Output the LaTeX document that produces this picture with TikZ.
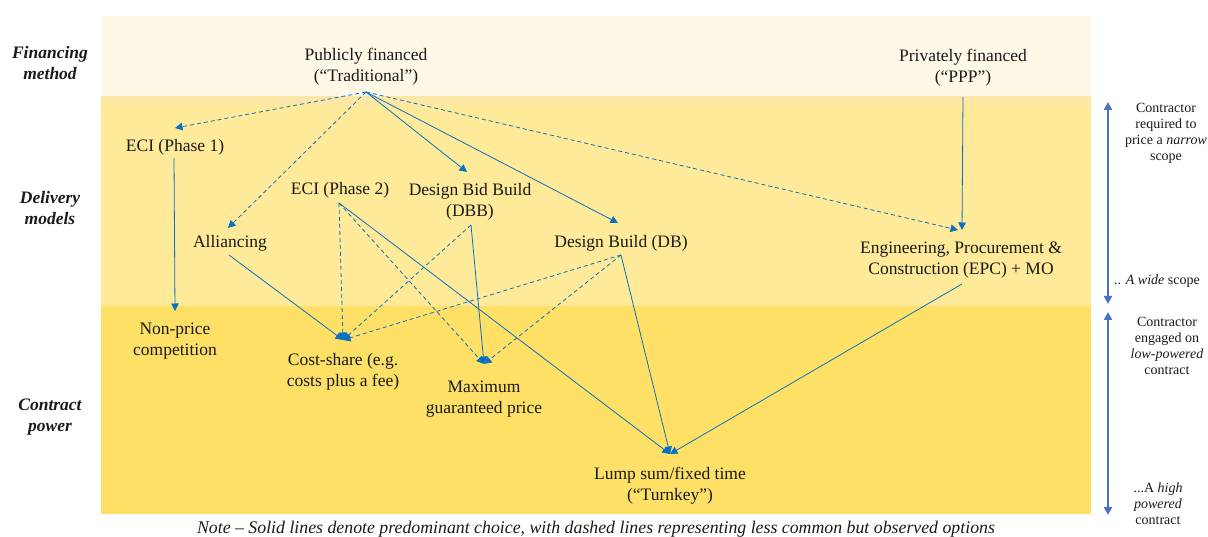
\documentclass[tikz,border=0pt]{standalone}
\usepackage{fontspec}
\setmainfont{Liberation Serif}
\usetikzlibrary{arrows.meta}
\definecolor{bandtop}{HTML}{FFF8E6}
\definecolor{bandstrip}{HTML}{FDE7A6}
\definecolor{bandmid}{HTML}{FEEA98}
\definecolor{bandbot}{HTML}{FEE066}
\definecolor{arrblue}{HTML}{0A70C4}
\definecolor{sideblue}{HTML}{4472C4}
\definecolor{ink}{HTML}{1A1A1A}
\tikzset{
  txt/.style={align=center, inner sep=0pt, text=ink, font=\fontsize{17.5}{21}\selectfont},
  sidetxt/.style={align=center, inner sep=0pt, text=ink, font=\fontsize{14}{16}\selectfont},
  sidelabel/.style={align=center, inner sep=0pt, text=ink, font=\fontsize{17.5}{21}\selectfont\bfseries\itshape},
  conn/.style={draw=arrblue, line width=0.8pt, -{Triangle[length=7.5pt,width=7.5pt]}},
  dconn/.style={conn, dash pattern=on 4pt off 3pt},
  sidearr/.style={draw=sideblue, line width=2.4pt, {Triangle[length=8pt,width=8pt]}-{Triangle[length=8pt,width=8pt]}}
}
\begin{document}
\begin{tikzpicture}[x=1pt,y=-1pt]
\useasboundingbox (0,0) rectangle (1208,537);
% bands
\fill[bandtop] (101,16) rectangle (1091,96);
\fill[bandstrip] (101,96) rectangle (1091,105);
\fill[bandmid] (101,105) rectangle (1091,306);
\fill[bandbot] (101,306) rectangle (1091,514);

% left labels
\node[sidelabel] (lfin) at (50,63) {Financing\\method};
\node[sidelabel] (ldel) at (50,208) {Delivery\\models};
\node[sidelabel] (lcon) at (50,417) {Contract\\power};

% nodes
\node[txt] (trad) at (366,67) {Publicly financed\\(“Traditional”)};
\node[txt] (ppp) at (963,68) {Privately financed\\(“PPP”)};
\node[txt] (eci1) at (175,147.5) {ECI (Phase 1)};
\node[txt] (alli) at (230,243) {Alliancing};
\node[txt] (eci2) at (340,190.5) {ECI (Phase 2)};
\node[txt] (dbb) at (470,201.5) {Design Bid Build\\(DBB)};
\node[txt] (db) at (621,243.5) {Design Build (DB)};
\node[txt] (epc) at (961,260.5) {Engineering, Procurement \&\\Construction (EPC) + MO};
\node[txt] (np) at (175,341) {Non-price\\competition};
\node[txt] (cs) at (343,371.5) {Cost-share (e.g.\\costs plus a fee)};
\node[txt] (mgp) at (484,399) {Maximum\\guaranteed price};
\node[txt] (ls) at (670,485.5) {Lump sum/fixed time\\(“Turnkey”)};

% connection points
\coordinate (tradOut) at (366,92);
\coordinate (pppOut) at (963,97);
\coordinate (eci1In) at (175,128);
\coordinate (eci1Out) at (174,158);
\coordinate (alliIn) at (228,228);
\coordinate (alliOut) at (229,255);
\coordinate (eci2Out) at (339,203);
\coordinate (dbbIn) at (467,172);
\coordinate (dbbOut) at (471,225);
\coordinate (dbIn) at (618,223);
\coordinate (dbOut) at (621,255);
\coordinate (epcInD) at (958,230);
\coordinate (epcInS) at (962,230);
\coordinate (epcOut) at (962,284);
\coordinate (npIn) at (175,311);
\coordinate (csIn) at (343,340);
\coordinate (mgpIn) at (484,364);
\coordinate (lsIn) at (670,454);

% connectors from financing
\draw[dconn] (tradOut) -- (eci1In);
\draw[dconn] (tradOut) -- (alliIn);
\draw[conn] (tradOut) -- (dbbIn);
\draw[conn] (tradOut) -- (dbIn);
\draw[dconn] (tradOut) -- (epcInD);
\draw[conn] (pppOut) -- (epcInS);

% delivery -> contract
\draw[conn] (eci1Out) -- (npIn);
\draw[conn] (alliOut) -- (csIn);
\draw[dconn] (eci2Out) -- (csIn);
\draw[dconn] (dbbOut) -- (csIn);
\draw[dconn] (dbOut) -- (csIn);
\draw[dconn] (eci2Out) -- (mgpIn);
\draw[conn] (dbbOut) -- (mgpIn);
\draw[dconn] (dbOut) -- (mgpIn);
\draw[conn] (eci2Out) -- (lsIn);
\draw[conn] (dbOut) -- (lsIn);
\draw[conn] (epcOut) -- (lsIn);

% side arrows
\coordinate (s1t) at (1108,102);
\coordinate (s1b) at (1108,304);
\coordinate (s2t) at (1108,312);
\coordinate (s2b) at (1108,515);
\draw[sidearr] (s1t) -- (s1b);
\draw[sidearr] (s2t) -- (s2b);

\node[sidetxt] (r1) at (1166,133) {Contractor\\required to\\price a \textit{narrow}\\scope};
\node[sidetxt] (r2) at (1157,281) {.. \textit{A wide} scope};
\node[sidetxt] (r3) at (1167,346) {Contractor\\engaged on\\\textit{low-powered}\\contract};
\node[sidetxt] (r4) at (1158,504) {...A \textit{high}\\\textit{powered}\\contract};

% note
\node[inner sep=0pt, text=ink, font=\fontsize{17.8}{21}\selectfont\itshape] (note) at (596,529) {Note – Solid lines denote predominant choice, with dashed lines representing less common but observed options};
\end{tikzpicture}
\end{document}
